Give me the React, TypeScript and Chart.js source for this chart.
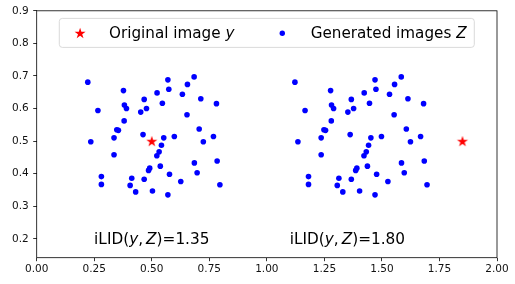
import React, { useEffect, useRef } from "react";
import { Chart, registerables } from "chart.js";

Chart.register(...registerables);

// ---- data ----
const leftX = [0.222,0.570,0.684,0.377,0.655,0.574,0.523,0.633,0.467,0.713,0.781,0.381,0.390,0.546,0.477,0.452,0.266,0.653,0.380,0.348,0.355,0.706,0.336,0.462,0.552,0.598,0.768,0.235,0.724,0.542,0.532,0.522,0.336,0.685,0.784,0.491,0.486,0.537,0.697,0.577,0.281,0.281,0.413,0.467,0.626,0.406,0.796,0.430,0.503,0.570];
const leftY = [0.681,0.688,0.697,0.655,0.674,0.659,0.648,0.644,0.628,0.630,0.615,0.611,0.600,0.616,0.600,0.589,0.594,0.581,0.562,0.535,0.533,0.537,0.510,0.520,0.510,0.514,0.514,0.498,0.498,0.487,0.467,0.455,0.458,0.433,0.439,0.417,0.410,0.423,0.403,0.398,0.391,0.367,0.386,0.383,0.376,0.364,0.366,0.344,0.347,0.335];
const rightX = [1.122,1.470,1.584,1.277,1.555,1.474,1.423,1.533,1.367,1.613,1.681,1.281,1.290,1.446,1.377,1.352,1.166,1.553,1.280,1.248,1.255,1.606,1.236,1.362,1.452,1.498,1.668,1.135,1.624,1.442,1.432,1.422,1.236,1.585,1.684,1.391,1.386,1.437,1.597,1.477,1.181,1.181,1.313,1.367,1.526,1.306,1.696,1.330,1.403,1.470];
const rightY = [0.681,0.688,0.697,0.655,0.674,0.659,0.648,0.644,0.628,0.630,0.615,0.611,0.600,0.616,0.600,0.589,0.594,0.581,0.562,0.535,0.533,0.537,0.510,0.520,0.510,0.514,0.514,0.498,0.498,0.487,0.467,0.455,0.458,0.433,0.439,0.417,0.410,0.423,0.403,0.398,0.391,0.367,0.386,0.383,0.376,0.364,0.366,0.344,0.347,0.335];
const originalX = [0.5, 1.85];
const originalY = [0.5, 0.5];
const annotationX = [0.5, 1.35];
const annotationY = [0.2, 0.2];
const annotationValues = ["1.35", "1.80"];
const xTicks = [0, 0.25, 0.5, 0.75, 1.0, 1.25, 1.5, 1.75, 2.0];
const yTicks = [0.2, 0.3, 0.4, 0.5, 0.6, 0.7, 0.8, 0.9];
const legendLabels = ["Original image ", "Generated images "];
const legendVars = ["y", "Z"];

const FONT = "'DejaVu Sans', sans-serif";

function starPath(ctx: CanvasRenderingContext2D, cx: number, cy: number, R: number) {
  const r = R * 0.382;
  ctx.beginPath();
  for (let i = 0; i < 10; i++) {
    const rad = i % 2 === 0 ? R : r;
    const ang = -Math.PI / 2 + (i * Math.PI) / 5;
    const px = cx + rad * Math.cos(ang);
    const py = cy + rad * Math.sin(ang);
    if (i === 0) ctx.moveTo(px, py);
    else ctx.lineTo(px, py);
  }
  ctx.closePath();
}

function makeStar(): HTMLCanvasElement {
  const c = document.createElement("canvas");
  c.width = 14;
  c.height = 14;
  const g = c.getContext("2d")!;
  g.fillStyle = "#ff0000";
  starPath(g, 7, 7.5, 5.8);
  g.fill();
  return c;
}

function drawMixed(ctx: CanvasRenderingContext2D, parts: [string, boolean][], x: number, y: number, size: number, align: "left" | "center") {
  const fontOf = (it: boolean) => `${it ? "oblique " : ""}${size}px ${FONT}`;
  let total = 0;
  for (const [t, it] of parts) {
    ctx.font = fontOf(it);
    total += ctx.measureText(t).width;
  }
  let cx = align === "center" ? x - total / 2 : x;
  ctx.textAlign = "left";
  ctx.textBaseline = "alphabetic";
  for (const [t, it] of parts) {
    ctx.font = fontOf(it);
    ctx.fillText(t, cx, y);
    cx += ctx.measureText(t).width;
  }
}

const overlayPlugin = {
  id: "overlay",
  afterDraw(chart: any) {
    const { ctx, chartArea: a, scales } = chart;
    const xs = scales.x;
    const ys = scales.y;
    ctx.save();
    // frame
    ctx.strokeStyle = "#000";
    ctx.lineWidth = 0.8;
    ctx.strokeRect(a.left, a.top, a.right - a.left, a.bottom - a.top);
    // annotations
    ctx.fillStyle = "#000";
    for (let i = 0; i < annotationX.length; i++) {
      const px = xs.getPixelForValue(annotationX[i]);
      const py = ys.getPixelForValue(annotationY[i]);
      drawMixed(ctx, [["iLID(", false], ["y", true], [",\u2009", false], ["Z", true], [")=" + annotationValues[i], false]], px, py + 5.6, 15.3, "center");
    }
    // legend
    const lx = a.left + 22.6;
    const ly = a.top + 7.6;
    const lw = 415;
    const lh = 29;
    ctx.beginPath();
    ctx.roundRect(lx, ly, lw, lh, 3);
    ctx.fillStyle = "rgba(255,255,255,0.8)";
    ctx.fill();
    ctx.strokeStyle = "#d0d0d0";
    ctx.lineWidth = 0.8;
    ctx.stroke();
    const my = ly + 14.8;
    ctx.fillStyle = "#ff0000";
    starPath(ctx, lx + 20.8, my + 0.3, 5.8);
    ctx.fill();
    ctx.fillStyle = "#0000ff";
    ctx.beginPath();
    ctx.arc(lx + 223, my, 2.7, 0, Math.PI * 2);
    ctx.fill();
    ctx.fillStyle = "#000";
    drawMixed(ctx, [[legendLabels[0], false], [legendVars[0], true]], lx + 49.7, my + 4.3, 15.2, "left");
    drawMixed(ctx, [[legendLabels[1], false], [legendVars[1], true]], lx + 251.4, my + 4.3, 15.2, "left");
    ctx.restore();
  },
};

export default function App() {
  const ref = useRef<HTMLCanvasElement>(null);
  useEffect(() => {
    const star = makeStar();
    const chart = new Chart(ref.current!, {
      type: "scatter",
      data: {
        datasets: [
          {
            label: "Generated images Z",
            data: leftX.map((v, i) => ({ x: v, y: leftY[i] })).concat(rightX.map((v, i) => ({ x: v, y: rightY[i] }))),
            backgroundColor: "#0000ff",
            borderWidth: 0,
            pointRadius: 2.8,
          },
          {
            label: "Original image y",
            data: originalX.map((v, i) => ({ x: v, y: originalY[i] })),
            pointStyle: star as any,
            pointRadius: 6,
            backgroundColor: "#ff0000",
          },
        ],
      },
      options: {
        animation: false,
        responsive: false,
        layout: { padding: { left: 0, right: 18, top: 5.7, bottom: 0 } },
        plugins: { legend: { display: false }, tooltip: { enabled: false } },
        scales: {
          x: {
            type: "linear",
            min: 0,
            max: 2,
            afterBuildTicks: (s: any) => { s.ticks = xTicks.map((v) => ({ value: v })); },
            afterFit: (s: any) => { s.height = 26.3; },
            border: { display: false },
            grid: { drawOnChartArea: false, drawTicks: true, tickLength: 3.5, tickWidth: 0.8, tickColor: "#000" },
            ticks: {
              padding: 1.5,
              color: "#111",
              font: { family: FONT, size: 10.5 },
              maxRotation: 0,
              autoSkip: false,
              callback: (v: any) => Number(v).toFixed(2),
            },
          },
          y: {
            type: "linear",
            min: 0.142,
            max: 0.9,
            afterBuildTicks: (s: any) => { s.ticks = yTicks.map((v) => ({ value: v })); },
            afterFit: (s: any) => { s.width = 36.7; },
            border: { display: false },
            grid: { drawOnChartArea: false, drawTicks: true, tickLength: 3.5, tickWidth: 0.8, tickColor: "#000" },
            ticks: {
              padding: 4.5,
              color: "#111",
              font: { family: FONT, size: 10.5 },
              autoSkip: false,
              callback: (v: any) => Number(v).toFixed(1),
            },
          },
        },
      },
      plugins: [overlayPlugin],
    });
    return () => chart.destroy();
  }, []);
  return (
    <div style={{ position: "absolute", left: 0, top: 0, width: 515, height: 284, background: "#fff" }}>
      <canvas ref={ref} width={515} height={284} />
    </div>
  );
}
